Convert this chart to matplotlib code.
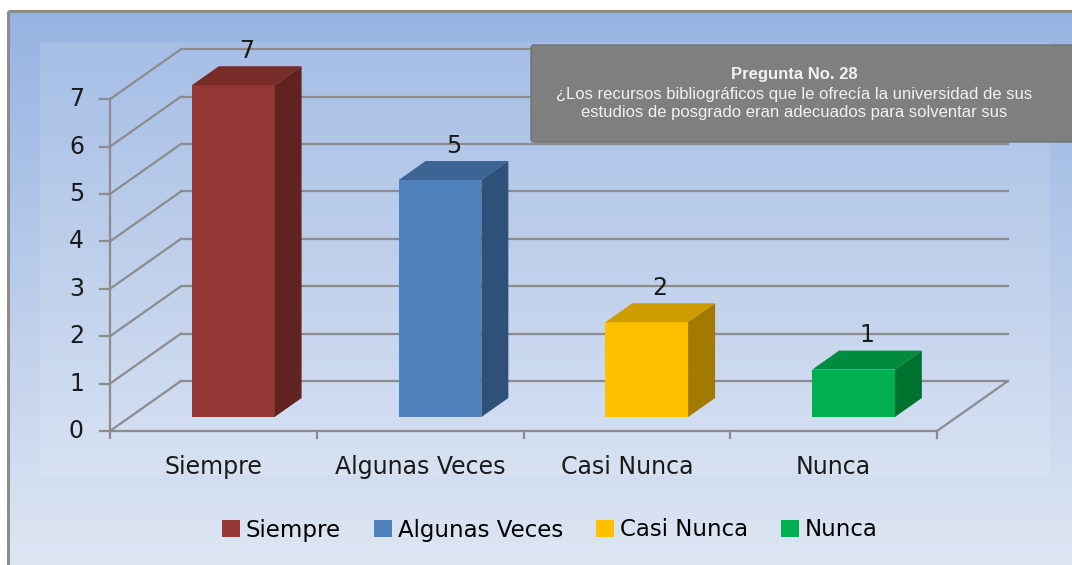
import matplotlib.pyplot as plt
import numpy as np
from matplotlib.patches import Polygon, Rectangle, Patch, FancyBboxPatch

# -------------------------- data --------------------------
categories = ['Siempre', 'Algunas Veces', 'Casi Nunca', 'Nunca']
values = [7, 5, 2, 1]
y_ticks = [0, 1, 2, 3, 4, 5, 6, 7]
front_colors = ['#953735', '#4f81bd', '#ffc000', '#00b050']
top_colors = ['#772c2a', '#3d6594', '#cf9c00', '#008c3e']
side_colors = ['#602321', '#2f5079', '#a37a00', '#00722f']
title = 'Pregunta No. 28'
question_lines = ['¿Los recursos bibliográficos que le ofrecía la universidad de sus',
                  'estudios de posgrado eran adecuados para solventar sus']

W, H = 1072, 565
fig = plt.figure(figsize=(W / 100, H / 100), dpi=100)
grid_c = '#8c8c8c'
font = 'DejaVu Sans'

# -------------------------- background (pixel coords) --------------------------
bg = fig.add_axes([0, 0, 1, 1], zorder=0)
bg.set_xlim(0, W)
bg.set_ylim(H, 0)
bg.axis('off')
g = np.linspace(0, 1, 256)[:, None, None]
c_top = np.array([0x96, 0xb3, 0xe2]) / 255
c_bot = np.array([0xde, 0xe6, 0xf3]) / 255
bg.imshow(c_top + (c_bot - c_top) * g, extent=[8, W + 5, H, 11],
          aspect='auto', interpolation='bilinear')
bg.add_patch(Rectangle((40, 42), 1010, 433, fc='white', alpha=0.12, lw=0))
bg.plot([8, 8], [H, 11], color=grid_c, lw=2.2, solid_capstyle='butt')
bg.plot([8, W], [11, 11], color=grid_c, lw=2.2, solid_capstyle='butt')

# -------------------------- 3D-ish bar chart --------------------------
ax = fig.add_axes([0, 0, 1, 1], zorder=1)
ax.patch.set_alpha(0)
ax.axis('off')
x0, y0, cw, uh = 110, 431, 206.75, 47.4   # origin px, category width px, unit height px
ax.set_xlim(-x0 / cw, (W - x0) / cw)
ax.set_ylim((y0 - H) / uh, y0 / uh)
DX, DY = 71 / cw, 50 / uh                 # depth of the floor
f1, f2 = 0.28, 0.66                       # bar front / back depth fraction
n = len(categories)
lw = 1.6

for v in y_ticks:
    ax.plot([0, DX], [v, v + DY], color=grid_c, lw=lw, zorder=1)
    ax.plot([DX, n + DX], [v + DY, v + DY], color=grid_c, lw=lw, zorder=1)
    ax.plot([-10 / cw, 0], [v, v], color=grid_c, lw=lw, zorder=1)
    ax.text(-26 / cw, v, str(v), ha='right', va='center', fontsize=17,
            family=font, color='#1a1a1a')
ax.plot([0, n], [0, 0], color=grid_c, lw=lw, zorder=1)
ax.plot([n, n + DX], [0, DY], color=grid_c, lw=lw, zorder=1)
ax.plot([0, 0], [0, max(y_ticks)], color=grid_c, lw=lw, zorder=1)
for i in range(n + 1):
    ax.plot([i, i], [0, -7 / uh], color=grid_c, lw=lw, zorder=1)

dd = f2 - f1
for i, (cat, v) in enumerate(zip(categories, values)):
    xl, xr = i + 0.3 + f1 * DX, i + 0.7 + f1 * DX
    yb, yt = f1 * DY, v + f1 * DY
    ox, oy = dd * DX, dd * DY
    ax.add_patch(Polygon([(xl, yb), (xr, yb), (xr, yt), (xl, yt)],
                         fc=front_colors[i], ec='none', zorder=3))
    ax.add_patch(Polygon([(xl, yt), (xr, yt), (xr + ox, yt + oy), (xl + ox, yt + oy)],
                         fc=top_colors[i], ec='none', zorder=3))
    ax.add_patch(Polygon([(xr, yb), (xr + ox, yb + oy), (xr + ox, yt + oy), (xr, yt)],
                         fc=side_colors[i], ec='none', zorder=3))
    ax.annotate(str(v), (i + 0.5 + (f1 + f2) / 2 * DX, v + f2 * DY), xytext=(0, 6),
                textcoords='offset points', ha='center', va='baseline',
                fontsize=17, family=font, color='#1a1a1a', zorder=4)
    ax.text(i + 0.5, -36 / uh, cat, ha='center', va='center', fontsize=17,
            family=font, color='#1a1a1a')

# -------------------------- title box --------------------------
top = fig.add_axes([0, 0, 1, 1], zorder=2)
top.set_xlim(0, W)
top.set_ylim(H, 0)
top.axis('off')
top.add_patch(FancyBboxPatch((531, 45), 560, 97, boxstyle='round,pad=0,rounding_size=3',
                             fc='#7f7f7f', ec='#707070', lw=1))
top.text(794, 79, title, ha='center', va='baseline', fontsize=12, fontweight='bold',
         family='Liberation Sans', color='#f2f2f2')
for k, line in enumerate(question_lines):
    top.text(794, 99 + 17.5 * k, line, ha='center', va='baseline', fontsize=12,
             family='Liberation Sans', color='#f2f2f2')

# -------------------------- legend --------------------------
handles = [Patch(fc=c, ec='none', label=l) for c, l in zip(front_colors, categories)]
fig.legend(handles=handles, loc='center', bbox_to_anchor=(550 / W, 1 - 530 / H), ncol=4,
           frameon=False, prop={'family': font, 'size': 16.5}, handlelength=0.78,
           handleheight=0.78, handletextpad=0.25, columnspacing=1.45)

fig.savefig('out.png', dpi=100)
